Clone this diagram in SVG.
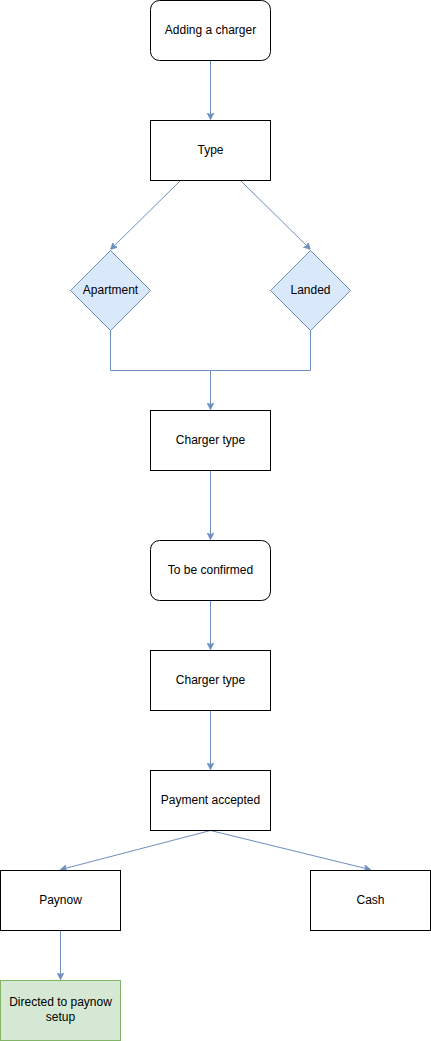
<svg xmlns="http://www.w3.org/2000/svg" width="431" height="1041" viewBox="0 0 431 1041">
<defs>
<style>
.n{fill:#fff;stroke:#000;stroke-width:1}
.d{fill:#dae8fc;stroke:#6c8ebf;stroke-width:1}
.g{fill:#d5e8d4;stroke:#82b366;stroke-width:1}
.e{fill:none;stroke:#6c8ebf;stroke-width:1}
text{font-family:"Liberation Sans",Arial,sans-serif;font-size:12px;fill:#000;text-anchor:middle;dominant-baseline:central}
</style>
<marker id="a" viewBox="0 0 10 10" refX="9" refY="5" markerWidth="7" markerHeight="7" orient="auto" markerUnits="userSpaceOnUse">
<path d="M0,0 L10,5 L0,10 L3,5 Z" fill="#6c8ebf" stroke="#6c8ebf"/>
</marker>
</defs>
<rect width="431" height="1041" fill="#fff"/>
<g id="connectors">
<path class="e" d="M210.5,60.5 V119" marker-end="url(#a)"/>
<path class="e" d="M180.5,180.5 L111,249" marker-end="url(#a)"/>
<path class="e" d="M240.5,180.5 L310,249" marker-end="url(#a)"/>
<path class="e" d="M110.5,330.5 V370.5 H210.5 V409" marker-end="url(#a)"/>
<path class="e" d="M310.5,330.5 V370.5 H210.5"/>
<path class="e" d="M210.5,470.5 V539" marker-end="url(#a)"/>
<path class="e" d="M210.5,600.5 V649" marker-end="url(#a)"/>
<path class="e" d="M210.5,710.5 V769" marker-end="url(#a)"/>
<path class="e" d="M210.5,830.5 L61,869.5" marker-end="url(#a)"/>
<path class="e" d="M210.5,830.5 L370,869.5" marker-end="url(#a)"/>
<path class="e" d="M60.5,930.5 V979" marker-end="url(#a)"/>
</g>
<g id="adding"><rect class="n" x="150.5" y="0.5" width="120" height="60" rx="9"/><text x="210.5" y="29.5">Adding a charger</text></g>
<g id="type"><rect class="n" x="150.5" y="120.5" width="120" height="60"/><text x="210.5" y="149.5">Type</text></g>
<g id="apartment"><path class="d" d="M110.5,250.5 L150.5,290.5 L110.5,330.5 L70.5,290.5 Z"/><text x="110.5" y="289.5">Apartment</text></g>
<g id="landed"><path class="d" d="M310.5,250.5 L350.5,290.5 L310.5,330.5 L270.5,290.5 Z"/><text x="310.5" y="289.5">Landed</text></g>
<g id="chargertype1"><rect class="n" x="150.5" y="410.5" width="120" height="60"/><text x="210.5" y="439.5">Charger type</text></g>
<g id="tbc"><rect class="n" x="150.5" y="540.5" width="120" height="60" rx="9"/><text x="210.5" y="569.5">To be confirmed</text></g>
<g id="chargertype2"><rect class="n" x="150.5" y="650.5" width="120" height="60"/><text x="210.5" y="679.5">Charger type</text></g>
<g id="payment"><rect class="n" x="150.5" y="770.5" width="120" height="60"/><text x="210.5" y="799.5">Payment accepted</text></g>
<g id="paynow"><rect class="n" x="0.5" y="870.5" width="120" height="60"/><text x="60.5" y="899.5">Paynow</text></g>
<g id="cash"><rect class="n" x="310.5" y="870.5" width="120" height="60"/><text x="370.5" y="899.5">Cash</text></g>
<g id="directed"><rect class="g" x="0.5" y="980.5" width="120" height="60"/><text x="60.5" y="1002">Directed to paynow</text><text x="60.5" y="1017">setup</text></g>
</svg>
